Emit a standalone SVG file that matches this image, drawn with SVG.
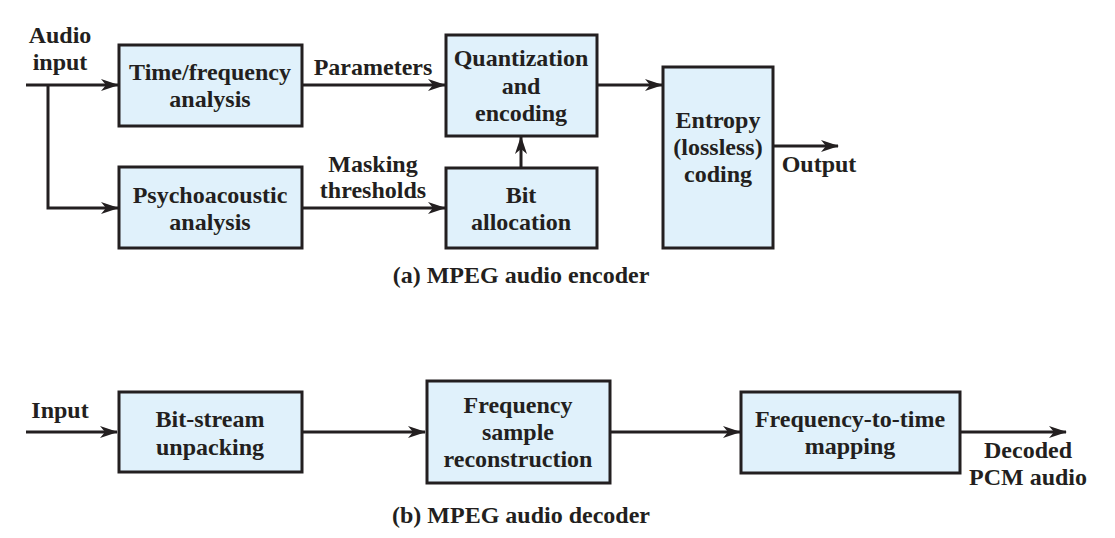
<svg xmlns="http://www.w3.org/2000/svg" width="1115" height="538" viewBox="0 0 1115 538">
<style>
.box{fill:#e0f1fb;stroke:#231f20;stroke-width:3}
.ln{fill:none;stroke:#231f20;stroke-width:3}
text{font-family:"Liberation Serif","Times New Roman",serif;font-weight:bold;font-size:24px;fill:#231f20;text-anchor:middle}
</style>
<defs>
<marker id="ah" markerWidth="18" markerHeight="12" viewBox="0 0 18 12" refX="17" refY="6" orient="auto" markerUnits="userSpaceOnUse">
<path d="M0,0 L18,6 L0,12 L5,6 Z" fill="#231f20"/>
</marker>
</defs>
<rect width="1115" height="538" fill="#fff"/>
<g id="connectors">
<path class="ln" d="M26,85 H118" marker-end="url(#ah)"/>
<path class="ln" d="M48,85 V208 H118" marker-end="url(#ah)"/>
<path class="ln" d="M302,85 H445" marker-end="url(#ah)"/>
<path class="ln" d="M302,208 H445" marker-end="url(#ah)"/>
<path class="ln" d="M521,168 V137" marker-end="url(#ah)"/>
<path class="ln" d="M597,85 H662" marker-end="url(#ah)"/>
<path class="ln" d="M773,146 H838" marker-end="url(#ah)"/>
<path class="ln" d="M26,432 H117" marker-end="url(#ah)"/>
<path class="ln" d="M302,432 H425" marker-end="url(#ah)"/>
<path class="ln" d="M610,432 H740" marker-end="url(#ah)"/>
<path class="ln" d="M960,432 H1066" marker-end="url(#ah)"/>
</g>
<g id="labels">
<text x="60" y="43">Audio</text>
<text x="60" y="70">input</text>
<text x="373" y="75">Parameters</text>
<text x="373" y="172">Masking</text>
<text x="373" y="198">thresholds</text>
<text x="819" y="172">Output</text>
<text x="60" y="418">Input</text>
<text x="1028" y="458">Decoded</text>
<text x="1028" y="485">PCM audio</text>
<text x="521" y="283">(a) MPEG audio encoder</text>
<text x="521" y="523">(b) MPEG audio decoder</text>
</g>
<g id="time-frequency">
<rect class="box" x="119" y="45" width="183" height="81"/>
<text x="210" y="80">Time/frequency</text>
<text x="210" y="107">analysis</text>
</g>
<g id="psychoacoustic">
<rect class="box" x="119" y="167" width="183" height="81"/>
<text x="210" y="203">Psychoacoustic</text>
<text x="210" y="230">analysis</text>
</g>
<g id="quantization">
<rect class="box" x="446" y="35" width="151" height="101"/>
<text x="521" y="66">Quantization</text>
<text x="521" y="94">and</text>
<text x="521" y="121">encoding</text>
</g>
<g id="bit-allocation">
<rect class="box" x="446" y="168" width="151" height="80"/>
<text x="521" y="203">Bit</text>
<text x="521" y="230">allocation</text>
</g>
<g id="entropy">
<rect class="box" x="663" y="67" width="110" height="181"/>
<text x="718" y="128">Entropy</text>
<text x="718" y="155">(lossless)</text>
<text x="718" y="182">coding</text>
</g>
<g id="bitstream">
<rect class="box" x="119" y="392" width="183" height="80"/>
<text x="210" y="427">Bit-stream</text>
<text x="210" y="455">unpacking</text>
</g>
<g id="freq-sample">
<rect class="box" x="427" y="381" width="183" height="102"/>
<text x="518" y="413">Frequency</text>
<text x="518" y="440">sample</text>
<text x="518" y="467">reconstruction</text>
</g>
<g id="freq-to-time">
<rect class="box" x="741" y="392" width="219" height="81"/>
<text x="850" y="427">Frequency-to-time</text>
<text x="850" y="454">mapping</text>
</g>
</svg>
